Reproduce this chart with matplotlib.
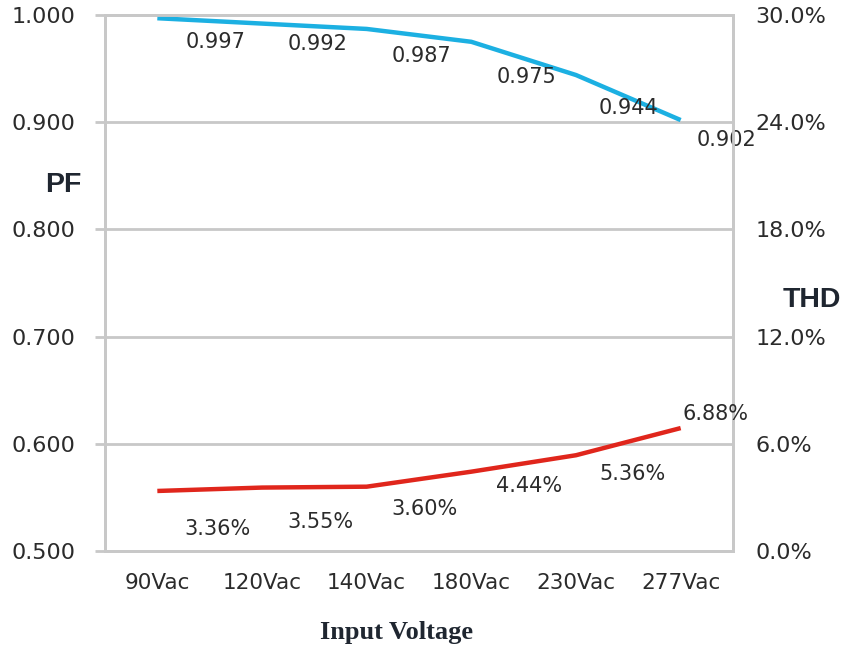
import matplotlib
matplotlib.use("Agg")
import matplotlib.pyplot as plt
from matplotlib.ticker import FuncFormatter

# data
voltages = ['90Vac', '120Vac', '140Vac', '180Vac', '230Vac', '277Vac']
pf = [0.997, 0.992, 0.987, 0.975, 0.944, 0.902]
thd = [3.36, 3.55, 3.60, 4.44, 5.36, 6.88]

# label offsets in pixels (layout only)
pf_off = [(58, -24), (56, -20), (55, -27), (55, -35), (52, -33), (46, -20)]
thd_off = [(60, -38), (58, -34), (58, -22), (58, -14), (57, -19), (35, 14)]

blue = '#1cb0e2'
red = '#e0261c'
grid = '#c8c8c8'
txt = '#2b2b2b'

plt.rcParams['font.family'] = ['DejaVu Sans']

fig = plt.figure(figsize=(8.41, 6.48), dpi=100)
ax = fig.add_axes([105 / 841, 1 - 551 / 648, 628 / 841, 536 / 648])
ax2 = ax.twinx()

x = list(range(len(voltages)))

ax.set_xlim(-0.5, len(voltages) - 0.5)
ax.set_ylim(0.5, 1.0)
ax.set_yticks([0.5, 0.6, 0.7, 0.8, 0.9, 1.0])
ax.yaxis.set_major_formatter(FuncFormatter(lambda v, p: '%.3f' % v))
ax.set_xticks(x)
ax.set_xticklabels(voltages)
ax.grid(axis='y', color=grid, linewidth=2)
ax.set_axisbelow(True)

ax2.set_ylim(0, 30)
ax2.set_yticks([0, 6, 12, 18, 24, 30])
ax2.yaxis.set_major_formatter(FuncFormatter(lambda v, p: '%.1f%%' % v))

for a in (ax, ax2):
    for s in a.spines.values():
        s.set_color(grid)
        s.set_linewidth(2)

ax.tick_params(axis='y', length=7, width=2, color=grid, pad=14,
               labelsize=16, labelcolor=txt)
ax.tick_params(axis='x', length=0, pad=16, labelsize=15.5, labelcolor=txt)
ax2.tick_params(axis='y', length=0, pad=16, labelsize=16, labelcolor=txt)

ax.plot(x, pf, color=blue, linewidth=3.2, solid_capstyle='butt', zorder=3)
ax2.plot(x, thd, color=red, linewidth=3.2, solid_capstyle='butt', zorder=3)

for i in x:
    ax.annotate('%.3f' % pf[i], (x[i], pf[i]), xytext=pf_off[i],
                textcoords='offset pixels', ha='center', va='center',
                fontsize=15, color=txt, annotation_clip=False)
    ax2.annotate('%.2f%%' % thd[i], (x[i], thd[i]), xytext=thd_off[i],
                 textcoords='offset pixels', ha='center', va='center',
                 fontsize=15, color=txt, annotation_clip=False)

fig.text(63 / 841, 1 - 185 / 648, 'PF', fontsize=20.5, fontweight='bold',
         family='Liberation Sans', color='#1f2630', ha='center', va='center')
fig.text(812 / 841, 1 - 300 / 648, 'THD', fontsize=20.5, fontweight='bold',
         family='Liberation Sans', color='#1f2630', ha='center', va='center')
fig.text(396 / 841, 1 - 632 / 648, 'Input Voltage', fontsize=19,
         fontweight='bold', family='Liberation Serif', color='#1f2630',
         ha='center', va='center')

fig.savefig('out.png', dpi=100)
